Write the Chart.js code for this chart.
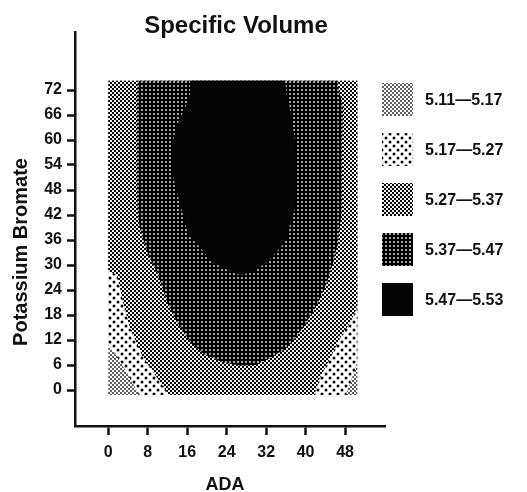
<!DOCTYPE html>
<html>
<head>
<meta charset="utf-8">
<title>Specific Volume</title>
<script src="https://cdn.jsdelivr.net/npm/chart.js@4.4.1/dist/chart.umd.min.js"></script>
<style>
  html, body { margin: 0; padding: 0; background: #fff; }
  canvas { display: block; }
</style>
</head>
<body>
<canvas id="chartVolume" width="527" height="492"></canvas>
<script>
// === Data ===
const chartTitle = "Specific Volume";
const xTitle = "ADA";
const yTitle = "Potassium Bromate";
const xTicks = [0, 8, 16, 24, 32, 40, 48];
const yTicks = [0, 6, 12, 18, 24, 30, 36, 42, 48, 54, 60, 66, 72];
const levels = ["5.11\u20145.17", "5.17\u20145.27", "5.27\u20145.37", "5.37\u20145.47", "5.47\u20145.53"];

// each zone = area where specific volume is above the lower bound of the level, [ADA, bromate]
const zone511 = [[0, -1.2], [50.5, -1.2], [50.5, 74.2], [0, 74.2]];
const zone517 = [[0, 74.2], [50.5, 74.2], [50.5, 6.7], [49.6, 3.6], [48.4, -0.5], [48.2, -1.2],
  [6.2, -1.2], [6.0, -0.5], [4.0, 3.6], [2.0, 7.7], [0, 10.8]];
const zone527 = [[0, 74.2], [50.5, 74.2], [50.5, 19.9], [49.1, 16.3], [47.0, 12.5], [45.0, 7.7],
  [42.9, 2.9], [41.9, -0.7], [41.8, -1.2], [12.2, -1.2], [11.9, -0.5], [9.5, 3.6], [6.8, 8.4],
  [4.4, 14.9], [3.0, 21.0], [1.8, 27.6], [0, 28.6]];
const zone537 = [[6.0, 74.2], [5.8, 70.8], [5.8, 60.0], [5.8, 48.0], [6.0, 42.0], [6.4, 38.9],
  [7.0, 36.5], [8.1, 32.4], [10.1, 27.6], [11.9, 21.1], [13.9, 16.3], [16.6, 11.5], [19.6, 8.4],
  [23.1, 6.7], [26.7, 5.8], [29.8, 6.0], [32.8, 7.7], [36.2, 10.1], [39.5, 14.9], [42.3, 20.4],
  [44.4, 25.9], [45.6, 30.7], [46.6, 35.5], [47.0, 39.6], [47.4, 43.7], [47.4, 51.6], [47.4, 59.5],
  [47.6, 67.7], [47.0, 70.8], [46.4, 74.2]];
const zone547 = [[16.6, 74.2], [16.6, 70.8], [15.6, 67.7], [13.9, 63.6], [13.1, 59.5], [13.1, 51.6],
  [13.9, 47.5], [15.2, 42.0], [16.2, 37.2], [18.2, 34.8], [21.0, 30.7], [24.3, 28.8], [26.7, 27.6],
  [29.4, 28.3], [32.2, 30.7], [34.8, 34.1], [36.4, 36.5], [36.8, 39.6], [37.9, 43.7], [38.3, 51.6],
  [37.9, 59.5], [36.8, 67.7], [36.2, 70.8], [35.8, 74.2]];
const zones = [zone511, zone517, zone527, zone537, zone547];

// === Patterns ===
function makePattern(size, draw) {
  const c = document.createElement("canvas");
  c.width = c.height = size;
  const g = c.getContext("2d");
  draw(g, size);
  return g.createPattern(c, "repeat");
}

function checker(light, dark) {
  return makePattern(4, (g) => {
    g.fillStyle = light;
    g.fillRect(0, 0, 4, 4);
    g.fillStyle = dark;
    g.fillRect(0, 0, 2, 2);
    g.fillRect(2, 2, 2, 2);
  });
}

const patterns = [
  checker("#ffffff", "#606060"),
  makePattern(8, (g) => {
    g.fillStyle = "#fff";
    g.fillRect(0, 0, 8, 8);
    g.fillStyle = "#000";
    [[2, 2], [6, 6]].forEach(([x, y]) => {
      g.beginPath();
      g.arc(x, y, 1.5, 0, Math.PI * 2);
      g.fill();
    });
  }),
  checker("#f0f0f0", "#000000"),
  makePattern(4, (g) => {
    g.fillStyle = "#000";
    g.fillRect(0, 0, 4, 4);
    g.fillStyle = "#a0a0a0";
    g.fillRect(1, 1, 2, 2);
  }),
  "#050505"
];

// === Titles and legend ===
const FONT = "'Liberation Sans', Arial, sans-serif";
const decor = {
  id: "decor",
  afterDraw(chart) {
    const g = chart.ctx;
    g.save();
    g.fillStyle = "#111";
    g.textAlign = "center";
    g.textBaseline = "alphabetic";
    g.font = "bold 24px " + FONT;
    g.fillText(chartTitle, 236, 33);
    g.font = "bold 18px " + FONT;
    g.fillText(xTitle, 225, 490);
    g.save();
    g.translate(27, 252);
    g.rotate(-Math.PI / 2);
    g.font = "bold 20px " + FONT;
    g.fillText(yTitle, 0, 0);
    g.restore();

    g.textAlign = "left";
    g.font = "bold 16px " + FONT;
    levels.forEach((lab, i) => {
      const top = 83 + i * 50;
      g.fillStyle = patterns[i];
      g.fillRect(382, top, 31, 33);
      g.fillStyle = "#111";
      g.fillText(lab, 425, top + 22);
    });
    g.restore();
  }
};

// === Chart ===
const ctx = document.getElementById("chartVolume").getContext("2d");
const tickFont = { family: FONT, size: 16, weight: "bold" };

const chart = new Chart(ctx, {
  type: "scatter",
  data: {
    datasets: zones.map((z, i) => ({
      label: levels[i],
      data: z.concat([z[0]]).map(([x, y]) => ({ x, y })),
      showLine: true,
      fill: "shape",
      backgroundColor: patterns[i],
      borderColor: "rgba(0,0,0,0)",
      borderWidth: 0,
      pointRadius: 0,
      tension: 0,
      order: zones.length - i
    }))
  },
  options: {
    responsive: false,
    animation: false,
    events: [],
    layout: { padding: { top: 32, right: 142, bottom: 0, left: 0 } },
    plugins: { legend: { display: false }, tooltip: { enabled: false } },
    scales: {
      x: {
        type: "linear",
        position: "bottom",
        min: -6.75,
        max: 56.1,
        afterFit: (s) => { s.height = 66; },
        afterBuildTicks: (s) => { s.ticks = xTicks.map((v) => ({ value: v })); },
        grid: { drawOnChartArea: false, tickLength: 9, tickWidth: 2.5, tickColor: "#111", color: "#111" },
        border: { display: true, color: "#111", width: 2.5 },
        ticks: { color: "#111", font: tickFont, padding: 8 }
      },
      y: {
        type: "linear",
        min: -8.64,
        max: 85.92,
        afterFit: (s) => { s.width = 75; },
        afterBuildTicks: (s) => { s.ticks = yTicks.map((v) => ({ value: v })); },
        grid: { drawOnChartArea: false, tickLength: 8, tickWidth: 2.5, tickColor: "#111", color: "#111" },
        border: { display: true, color: "#111", width: 2.5 },
        ticks: { color: "#111", font: tickFont, padding: 5 }
      }
    }
  },
  plugins: [decor]
});
</script>
</body>
</html>
